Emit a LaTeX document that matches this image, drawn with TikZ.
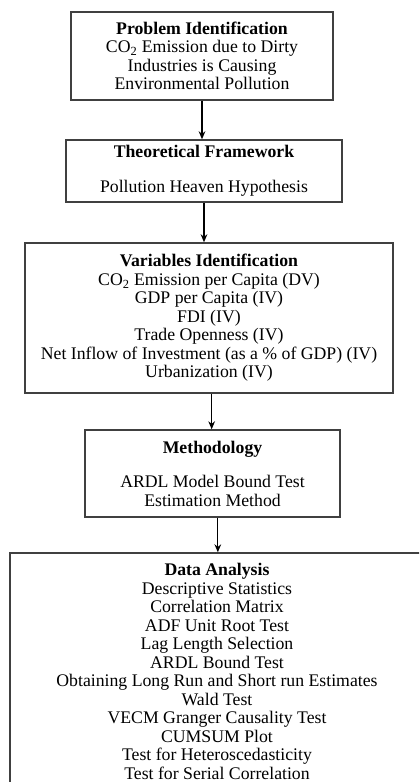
\documentclass[tikz,border=0pt]{standalone}
\usepackage{fontspec}
\setmainfont{Liberation Serif}
\usetikzlibrary{arrows.meta}

\begin{document}
\begin{tikzpicture}[x=0.75pt,y=-0.75pt,font=\fontsize{13.3}{13.9}\selectfont,>={Stealth[length=6pt,width=5pt]},line width=0.8pt,every node/.style={draw=black!75,line width=1.1pt,align=center,inner sep=0pt}]
\useasboundingbox (0,0) rectangle (419,782);
\clip (0,0) rectangle (419,782);
\node[minimum width=196.5pt,minimum height=66pt](prob) at (202,56){\textbf{Problem Identification}\\CO\textsubscript{2} Emission due to Dirty\\Industries is Causing\\Environmental Pollution};
\node[minimum width=207pt,minimum height=46.5pt](theo) at (204,171){\textbf{Theoretical Framework}\\[12pt]Pollution Heaven Hypothesis};
\node[minimum width=276pt,minimum height=112.5pt](vars) at (209,318){\textbf{Variables Identification}\\CO\textsubscript{2} Emission per Capita (DV)\\GDP per Capita (IV)\\FDI (IV)\\Trade Openness (IV)\\Net Inflow of Investment (as a \% of GDP) (IV)\\Urbanization (IV)};
\node[minimum width=191.25pt,minimum height=65.25pt](meth) at (212.5,473.5){\textbf{Methodology}\\[12pt]ARDL Model Bound Test\\Estimation Method};
\node[minimum width=310.5pt,minimum height=177.75pt](data) at (217,671.5){\textbf{Data Analysis}\\Descriptive Statistics\\Correlation Matrix\\ADF Unit Root Test\\Lag Length Selection\\ARDL Bound Test\\Obtaining Long Run and Short run Estimates\\Wald Test\\VECM Granger Causality Test\\CUMSUM Plot\\Test for Heteroscedasticity\\Test for Serial Correlation};
\draw[->](prob.south)--(prob.south|-theo.north);\draw[->](theo.south)--(theo.south|-vars.north);\draw[->]([xshift=2pt]vars.south)--([xshift=2pt]vars.south|-meth.north);\draw[->]([xshift=4pt]meth.south)--([xshift=4pt]meth.south|-data.north);
\end{tikzpicture}
\end{document}
